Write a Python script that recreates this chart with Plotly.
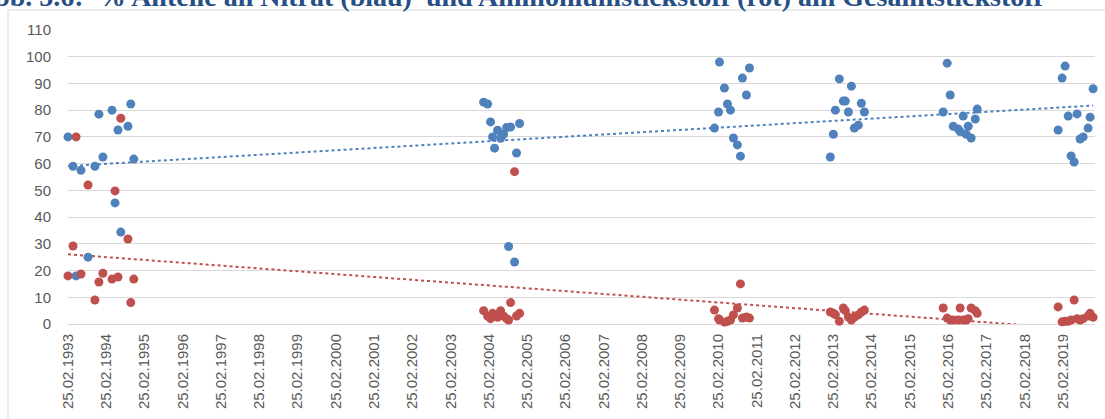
import numpy as np
import pandas as pd
import plotly.graph_objects as go

# ---- data ----
dates = [
    "1993-02-25", "1993-04-14", "1993-05-13", "1993-06-29", "1993-09-04", "1993-11-09", "1993-12-17",
    "1994-01-24", "1994-04-21", "1994-05-20", "1994-06-17", "1994-07-14", "1994-09-20", "1994-10-17", "1994-11-15",
    "2004-01-06", "2004-02-13", "2004-03-12", "2004-03-31", "2004-04-19", "2004-05-18", "2004-06-16",
    "2004-07-14", "2004-08-12", "2004-08-31", "2004-09-19", "2004-10-27", "2004-11-15", "2004-12-14",
    "2010-01-17", "2010-02-25", "2010-03-06", "2010-04-22", "2010-05-21", "2010-06-19",
    "2010-07-17", "2010-08-24", "2010-09-22", "2010-10-11", "2010-11-18", "2010-12-17",
    "2013-01-27", "2013-02-25", "2013-03-16", "2013-04-23", "2013-05-31", "2013-06-19",
    "2013-07-18", "2013-08-16", "2013-09-13", "2013-10-21", "2013-11-19", "2013-12-18",
    "2016-01-09", "2016-02-16", "2016-03-16", "2016-04-14", "2016-05-31", "2016-06-19",
    "2016-07-18", "2016-08-16", "2016-09-04", "2016-10-02", "2016-11-10", "2016-11-29",
    "2019-01-10", "2019-02-17", "2019-03-18", "2019-04-16", "2019-05-14", "2019-06-12",
    "2019-07-10", "2019-08-08", "2019-09-06", "2019-10-23", "2019-11-11", "2019-12-10",
]

nitrat = [
    70, 59, 18, 57.5, 25, 59, 78.5, 62.5, 80, 45.3, 72.6, 34.4, 74, 82.3, 61.7,
    83, 82.3, 75.6, 70, 65.8, 72.5, 69.5, 71, 73.5, 29, 73.7, 23.2, 64, 75,
    73.3, 79.3, 98, 88.3, 82.3, 80, 69.6, 67, 62.8, 92, 85.7, 95.8,
    62.5, 71, 80, 91.7, 83.4, 83.4, 79.3, 89, 73.3, 74.4, 82.6, 79.3,
    79.3, 97.6, 85.7, 74, 73, 72, 77.8, 71, 74, 69.6, 76.7, 80.4,
    72.6, 92, 96.5, 77.8, 62.9, 60.6, 78.6, 69.2, 70, 73.3, 77.4, 88,
]

ammonium = [
    18, 29.2, 70, 18.7, 52, 9, 15.7, 19, 16.8, 49.8, 17.6, 77, 31.8, 8, 16.8,
    5, 3, 2, 4, 3.5, 2.5, 5, 3, 2, 1.5, 8, 57, 3, 4,
    5.2, 2, 1.5, 0.7, 1, 1.5, 3.4, 6, 15, 2.2, 2.6, 2.2,
    4.5, 4, 3.5, 1, 6, 5, 2.6, 1.5, 2.5, 3.4, 4.5, 5.2,
    6, 2.2, 1.5, 1.5, 1.5, 6, 1.5, 1.5, 2, 6, 5, 4,
    6.4, 0.8, 1, 1, 1.5, 9, 2, 1.5, 2, 3, 4, 2.5,
]

tick_years = list(range(1993, 2020))
tick_dates = [f"{y}-02-25" for y in tick_years]
tick_labels = [f"25.02.{y}" for y in tick_years]

title_text = "Abb. 5.6:  % Anteile an Nitrat (blau)  und Ammoniumstickstoff (rot) am Gesamtstickstoff"

BLUE = "#4F81BD"
RED = "#C0504D"

# ---- linear trendlines (least squares on date serials) ----
d = pd.to_datetime(pd.Series(dates))
t = (d - pd.Timestamp("1900-01-01")).dt.days.to_numpy(dtype=float)
t_line = np.array([t.min(), t.max()])
d_line = [d.min(), d.max()]
kb = np.polyfit(t, np.array(nitrat, dtype=float), 1)
kr = np.polyfit(t, np.array(ammonium, dtype=float), 1)

fig = go.Figure()
fig.add_trace(go.Scatter(x=d_line, y=np.polyval(kb, t_line), mode="lines",
                         line=dict(color=BLUE, width=2, dash="dot"), showlegend=False,
                         hoverinfo="skip"))
fig.add_trace(go.Scatter(x=d_line, y=np.polyval(kr, t_line), mode="lines",
                         line=dict(color=RED, width=2, dash="dot"), showlegend=False,
                         hoverinfo="skip"))
fig.add_trace(go.Scatter(x=dates, y=nitrat, mode="markers", name="Nitrat",
                         marker=dict(color=BLUE, size=9), cliponaxis=False, showlegend=False))
fig.add_trace(go.Scatter(x=dates, y=ammonium, mode="markers", name="Ammonium",
                         marker=dict(color=RED, size=9), cliponaxis=False, showlegend=False))

L, R, T, B = 68, 10, 30, 95
W, H = 1105, 419
pw, ph = W - L - R, H - T - B

def px_x(p):
    return (p - L) / pw

def px_y(p):
    return (H - B - p) / ph

fig.update_layout(
    width=W, height=H,
    margin=dict(l=L, r=R, t=T, b=B, pad=0),
    paper_bgcolor="white", plot_bgcolor="white",
    showlegend=False,
    font=dict(family="Liberation Sans, Arial, sans-serif", color="#595959"),
    xaxis=dict(
        type="date",
        range=["1993-02-25", "2019-12-28"],
        tickmode="array", tickvals=tick_dates, ticktext=tick_labels,
        tickangle=-90, tickfont=dict(size=15, color="#595959"),
        showgrid=False, zeroline=False, showline=False, ticks="",
        ticklabelstandoff=6,
    ),
    yaxis=dict(
        range=[0, 110], tick0=0, dtick=10,
        showgrid=True, gridcolor="#D9D9D9", gridwidth=1,
        zeroline=True, zerolinecolor="#D9D9D9", zerolinewidth=1,
        showline=False, ticks="",
        tickfont=dict(size=15, color="#595959"),
        ticklabelstandoff=16,
    ),
    shapes=[
        dict(type="rect", xref="paper", yref="paper",
             x0=px_x(8), x1=px_x(1115), y0=px_y(430), y1=px_y(10),
             line=dict(color="#D9D9D9", width=1), fillcolor="rgba(0,0,0,0)", layer="below"),
    ],
    annotations=[
        dict(text=title_text, xref="paper", yref="paper",
             x=px_x(1046), y=px_y(-3), xanchor="right", yanchor="middle",
             showarrow=False,
             font=dict(family="Liberation Serif, Times New Roman, serif", size=28,
                       color="#264F85", weight="bold")),
    ],
)

fig.write_html(
    "out.html",
    config={"displayModeBar": False},
    post_script="document.body.style.margin='0';document.body.style.padding='0';"
                "document.documentElement.style.overflow='hidden';",
)
